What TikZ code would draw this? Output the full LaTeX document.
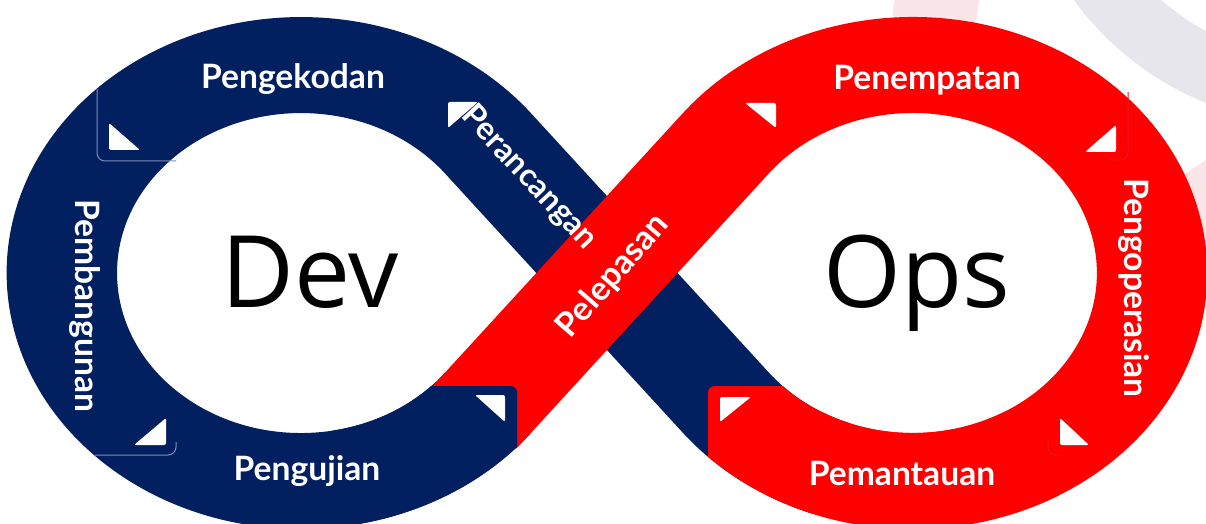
\documentclass[tikz,border=0pt]{standalone}
\usepackage{fontspec}
\setmainfont{Open Sans}
\newfontfamily\stagefont{Lato}
\definecolor{devblue}{RGB}{2,32,96}
\definecolor{opsred}{RGB}{255,0,0}
\definecolor{wmgrey}{RGB}{230,230,236}
\definecolor{wmpink}{RGB}{250,230,232}
\definecolor{devedge}{RGB}{125,142,185}
\definecolor{opsedge}{RGB}{232,24,24}
\tikzset{
	band/.style={line width=48pt},
	devband/.style={band, draw=devblue},
	opsband/.style={band, draw=opsred},
	pointer/.style={fill=white, rounded corners=1pt},
	stage/.style={text=white, font=\stagefont\bfseries\fontsize{16.8}{20}\selectfont, inner sep=0pt},
	loopname/.style={text=black, font=\fontsize{50}{60}\selectfont, inner sep=0pt},
	seam/.style={line width=0.5pt, rounded corners=4pt},
}

\begin{document}
\begin{tikzpicture}[x=0.5pt,y=-0.5pt]
	\useasboundingbox (0,0) rectangle (1206,524);
	\fill[white] (0,0) rectangle (1206,524);
	% faint rings behind
	\fill[wmgrey,even odd rule] (1320,-180) circle[radius=305] (1320,-180) circle[radius=240];
	\begin{scope}
		\clip (800,0) rectangle (1100,60);
		\fill[wmpink,even odd rule] (1300,60) circle[radius=410] (1300,60) circle[radius=326];
	\end{scope}
	\fill[wmpink] (1178,178) -- (1206,160) -- (1206,262) -- (1178,262) -- cycle;
	% the loop, stretched in x
	\begin{scope}[transform canvas={xscale=1.15}]
		\draw[devband] (424.3,402.8) arc[start angle=38.6,end angle=321.4,radius=208] -- (631.3,402.8) arc[start angle=141.4,end angle=110,radius=208];
		\draw[opsband] (689.8,453.1) arc[start angle=120,end angle=-141.4,radius=208] -- (424.3,402.8) -- (411.8,418.4);
		\begin{scope}
			\clip[rounded corners=3pt] (0,386) rectangle (449.6,600);
			\draw[devband] (297.9,477.8) arc[start angle=80,end angle=38.6,radius=208] -- (461.7,355.9);
		\end{scope}
		\begin{scope}
			\clip[rounded corners=3pt] (615.7,386) rectangle (1100,600);
			\draw[opsband] (593.9,355.9) -- (631.3,402.8) arc[start angle=141.4,end angle=60,radius=208];
		\end{scope}
	\end{scope}
	% seams between pieces
	\draw[seam,devedge] (97,89) -- (97,161) -- (176,161);
	\draw[seam,devedge] (95,455) -- (176,455) -- (176,442);
	\draw[seam,opsedge] (1128,92) -- (1128,160) -- (1110,160);
	\draw[seam,opsedge] (1048,440) -- (1048,455) -- (1062,455);
	% pointers
	\fill[pointer] (109,123) -- (109,150) -- (140,150) -- cycle;
	\fill[pointer] (448,102) -- (478,102) -- (448,128) -- cycle;
	\fill[pointer] (166,418) -- (166,445) -- (134,445) -- cycle;
	\fill[pointer] (475,395) -- (505,395) -- (505,422) -- cycle;
	\fill[pointer] (745,103) -- (776,103) -- (776,128) -- cycle;
	\fill[pointer] (1116,125) -- (1116,152) -- (1085,152) -- cycle;
	\fill[pointer] (1060,418) -- (1060,445) -- (1089,445) -- cycle;
	\fill[pointer] (720,397) -- (751,397) -- (720,422) -- cycle;
	% labels
	\node[stage,anchor=base] (pengekodan) at (293,89) {Pengekodan};
	\node[stage,anchor=base] (pengujian) at (307,480) {Pengujian};
	\node[stage,rotate=-90] (pembangunan) at (85,306) {Pembangunan};
	\node[stage,rotate=-47,font=\stagefont\bfseries\fontsize{16}{19}\selectfont] (perancangan) at (529,178) {Perancangan};
	\node[stage,rotate=49] (pelepasan) at (613,276) {Pelepasan};
	\node[stage,anchor=base] (penempatan) at (927,90) {Penempatan};
	\node[stage,rotate=-90] (pengoperasian) at (1134,288) {Pengoperasian};
	\node[stage,anchor=base] (pemantauan) at (902,485) {Pemantauan};
	\node[loopname,anchor=base] (dev) at (310,307) {Dev};
	\node[loopname,anchor=base] (ops) at (917,307) {Ops};
\end{tikzpicture}
\end{document}
